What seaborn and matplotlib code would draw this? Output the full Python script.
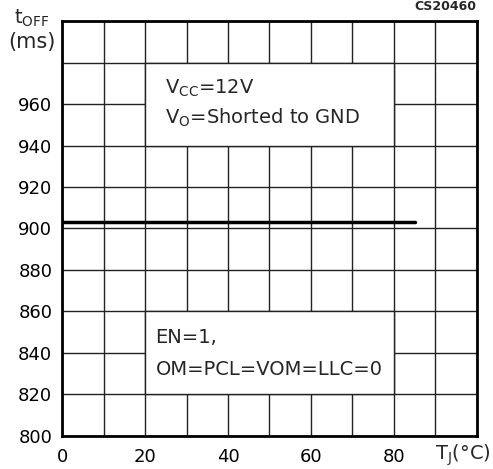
import numpy as np
import pandas as pd
import seaborn as sns
import matplotlib.pyplot as plt
from matplotlib.patches import Rectangle

# data
tj = [0, 85]
toff = [903, 903]
x_ticks = [0, 10, 20, 30, 40, 50, 60, 70, 80, 90, 100]
x_labels = ["0", "", "20", "", "40", "", "60", "", "80", "", ""]
y_ticks = [800, 820, 840, 860, 880, 900, 920, 940, 960, 980, 1000]
y_labels = ["800", "820", "840", "860", "880", "900", "920", "940", "960", "", ""]

df = pd.DataFrame({"tj": tj, "toff": toff})

sns.set_style("white")
plt.rcParams["font.family"] = ["DejaVu Sans"]

fig = plt.figure(figsize=(4.93, 4.69), dpi=100)
ax = fig.add_axes([0.1258, 0.0704, 0.8417, 0.8848])

sns.lineplot(data=df, x="tj", y="toff", color="black", linewidth=2.5, ax=ax, zorder=3)

ax.set_xlim(0, 100)
ax.set_ylim(800, 1000)
ax.set_xticks(x_ticks)
ax.set_xticklabels(x_labels)
ax.set_yticks(y_ticks)
ax.set_yticklabels(y_labels)
ax.tick_params(length=0, labelsize=13, colors="black")
ax.tick_params(axis="x", pad=9)
ax.tick_params(axis="y", pad=7)
ax.set_xlabel("")
ax.set_ylabel("")
ax.grid(True, color="#222222", linewidth=1.0)
ax.set_axisbelow(True)
for s in ax.spines.values():
    s.set_color("black")
    s.set_linewidth(2)

# white boxes hiding the grid behind the notes
for (x0, y0) in [(20, 940), (20, 820)]:
    ax.add_patch(Rectangle((x0, y0), 60, 40, facecolor="white",
                           edgecolor="#222222", linewidth=1.0, zorder=1))

ax.text(24.8, 967.5, r"$\mathregular{V_{CC}}$=12V", fontsize=14, va="center", zorder=4)
ax.text(24.8, 953.5, r"$\mathregular{V_{O}}$=Shorted to GND", fontsize=14, va="center", zorder=4)
ax.text(22.5, 847.5, "EN=1,", fontsize=14, va="center", zorder=4)
ax.text(22.5, 832.0, "OM=PCL=VOM=LLC=0", fontsize=14, va="center", zorder=4)

fig.text(56 / 493, 1 - 42 / 469, "(ms)", fontsize=15, ha="right", va="center")
fig.text(14 / 493, 1 - 18 / 469, r"t$\mathregular{_{OFF}}$", fontsize=14, ha="left", va="center")
fig.text(463 / 493, 1 - 455 / 469, r"T$\mathregular{_{J}}$(°C)", fontsize=14, ha="center", va="center")
fig.text(476 / 493, 1 - 7 / 469, "CS20460", fontsize=9, ha="right", va="center", fontweight="bold")

fig.savefig("out.png", dpi=100)
